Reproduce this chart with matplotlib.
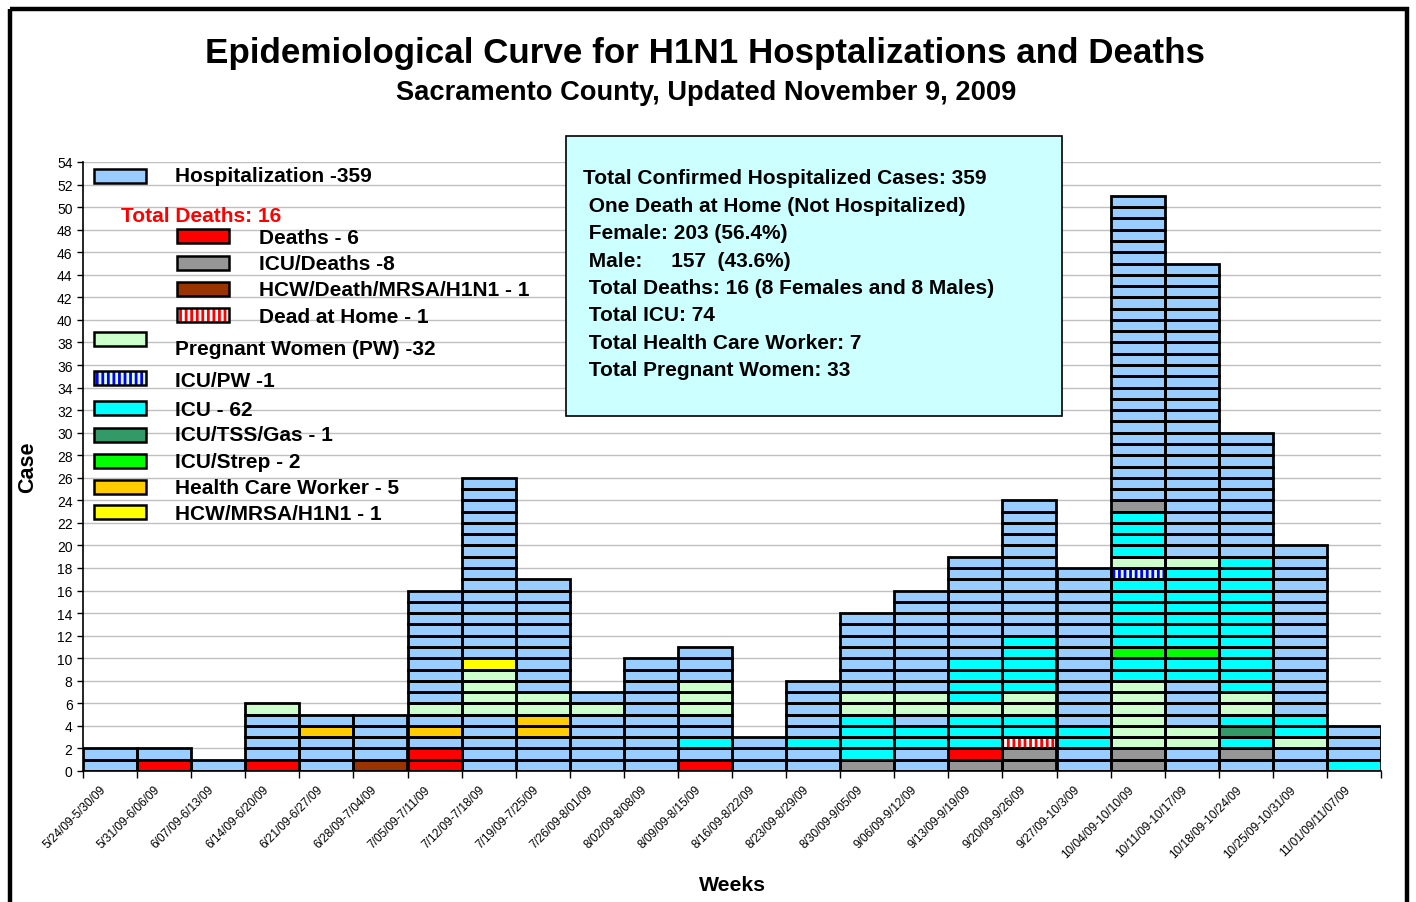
import matplotlib
matplotlib.use("Agg")
import matplotlib.pyplot as plt
from matplotlib.patches import Rectangle
from matplotlib.transforms import ScaledTranslation

plt.rcParams['font.family'] = ['Liberation Sans', 'DejaVu Sans']
plt.rcParams['hatch.linewidth'] = 2.0

# weekly cases, stacked bottom -> top as (category, count) runs
weeks = ["5/24/09-5/30/09", "5/31/09-6/06/09", "6/07/09-6/13/09", "6/14/09-6/20/09",
         "6/21/09-6/27/09", "6/28/09-7/04/09", "7/05/09-7/11/09", "7/12/09-7/18/09",
         "7/19/09-7/25/09", "7/26/09-8/01/09", "8/02/09-8/08/09", "8/09/09-8/15/09",
         "8/16/09-8/22/09", "8/23/09-8/29/09", "8/30/09-9/05/09", "9/06/09-9/12/09",
         "9/13/09-9/19/09", "9/20/09-9/26/09", "9/27/09-10/3/09", "10/04/09-10/10/09",
         "10/11/09-10/17/09", "10/18/09-10/24/09", "10/25/09-10/31/09", "11/01/09/11/07/09"]

stacks = [
    [("H", 2)],
    [("D", 1), ("H", 1)],
    [("H", 1)],
    [("D", 1), ("H", 4), ("PW", 1)],
    [("H", 3), ("HCW", 1), ("H", 1)],
    [("HCWD", 1), ("H", 4)],
    [("D", 2), ("H", 1), ("HCW", 1), ("H", 1), ("PW", 1), ("H", 10)],
    [("H", 5), ("PW", 4), ("HCWM", 1), ("H", 16)],
    [("H", 3), ("HCW", 2), ("PW", 2), ("H", 10)],
    [("H", 5), ("PW", 1), ("H", 1)],
    [("H", 10)],
    [("D", 1), ("H", 1), ("ICU", 1), ("H", 2), ("PW", 3), ("H", 3)],
    [("H", 3)],
    [("H", 2), ("ICU", 1), ("H", 5)],
    [("ICUD", 1), ("ICU", 4), ("PW", 2), ("H", 7)],
    [("H", 2), ("ICU", 2), ("H", 1), ("PW", 2), ("H", 9)],
    [("ICUD", 1), ("D", 1), ("ICU", 3), ("PW", 1), ("ICU", 4), ("H", 9)],
    [("ICUD", 2), ("HOME", 1), ("ICU", 2), ("PW", 2), ("ICU", 5), ("H", 12)],
    [("H", 2), ("ICU", 2), ("H", 14)],
    [("ICUD", 2), ("PW", 6), ("ICU", 2), ("STREP", 1), ("ICU", 6), ("ICUPW", 1),
     ("PW", 1), ("ICU", 4), ("ICUD", 1), ("H", 27)],
    [("H", 2), ("PW", 2), ("H", 4), ("ICU", 2), ("STREP", 1), ("ICU", 7), ("PW", 1), ("H", 26)],
    [("H", 1), ("ICUD", 1), ("ICU", 1), ("TSS", 1), ("ICU", 1), ("PW", 2), ("ICU", 12), ("H", 11)],
    [("H", 2), ("PW", 1), ("ICU", 2), ("H", 15)],
    [("ICU", 1), ("H", 3)],
]

legend_items = [
    ("H", "Hospitalization -359"),
    ("D", "Deaths - 6"),
    ("ICUD", "ICU/Deaths -8"),
    ("HCWD", "HCW/Death/MRSA/H1N1 - 1"),
    ("HOME", "Dead at Home - 1"),
    ("PW", "Pregnant Women (PW) -32"),
    ("ICUPW", "ICU/PW -1"),
    ("ICU", "ICU - 62"),
    ("TSS", "ICU/TSS/Gas - 1"),
    ("STREP", "ICU/Strep - 2"),
    ("HCW", "Health Care Worker - 5"),
    ("HCWM", "HCW/MRSA/H1N1 - 1"),
]

info_lines = ["Total Confirmed Hospitalized Cases: 359",
              " One Death at Home (Not Hospitalized)",
              " Female: 203 (56.4%)",
              " Male:     157  (43.6%)",
              " Total Deaths: 16 (8 Females and 8 Males)",
              " Total ICU: 74",
              " Total Health Care Worker: 7",
              " Total Pregnant Women: 33"]

# face colour, hatch, hatch colour
styles = {
    "H": ("#99CCFF", None, None),
    "D": ("#FF0000", None, None),
    "ICUD": ("#969696", None, None),
    "HCWD": ("#993300", None, None),
    "HOME": ("#FFFFFF", "|||", "#FF0000"),
    "PW": ("#CCFFCC", None, None),
    "ICUPW": ("#DDFFDD", "|||", "#0000FF"),
    "ICU": ("#00FFFF", None, None),
    "TSS": ("#339966", None, None),
    "STREP": ("#00FF00", None, None),
    "HCW": ("#FFCC00", None, None),
    "HCWM": ("#FFFF00", None, None),
}

W, H = 1416, 903
fig = plt.figure(figsize=(W / 100, H / 100), dpi=100)
ax = fig.add_axes([83 / W, 1 - 772 / H, (1381 - 83) / W, (772 - 163) / H])

for i, stack in enumerate(stacks):
    level = 0
    for code, n in stack:
        face, hatch, hcol = styles[code]
        for k in range(n):
            ax.bar(i, 1, bottom=level, width=1.0, color=face,
                   edgecolor=hcol if hatch else face, hatch=hatch, linewidth=0, zorder=2)
            ax.bar(i, 1, bottom=level, width=1.0, color='none',
                   edgecolor='black', linewidth=2.0, zorder=3)
            level += 1

ax.set_xlim(-0.5, len(weeks) - 0.5)
ax.set_ylim(0, 54)
ax.set_yticks(range(0, 55, 2))
ax.tick_params(axis='y', labelsize=10, length=4, width=1)

# week labels: rotated, drawn by hand so they can sit a little left of the bar centre
ax.set_xticks([i - 0.5 for i in range(len(weeks) + 1)])
ax.set_xticklabels([])
ax.tick_params(axis='x', length=5, width=1)
shift = ScaledTranslation(-10 / 100, -12 / 100, fig.dpi_scale_trans)
for i, wk in enumerate(weeks):
    ax.text(i, 0, wk, transform=ax.get_xaxis_transform() + shift, rotation=45,
            ha='right', va='top', rotation_mode='anchor', fontsize=8.6)

ax.grid(axis='y', color='#C0C0C0', linewidth=1, zorder=0)
ax.set_axisbelow(True)
for s in ['top', 'right']:
    ax.spines[s].set_visible(False)
ax.spines['left'].set_linewidth(1.2)
ax.spines['bottom'].set_linewidth(1.2)

# overlay in pixel coordinates for titles, legend and info box
ov = fig.add_axes([0, 0, 1, 1])
ov.set_xlim(0, W)
ov.set_ylim(H, 0)
ov.axis('off')

ov.add_patch(Rectangle((9.5, 9.5), W - 19, H + 20, fill=False, edgecolor='black', linewidth=3.2))
ov.text(705, 53, "Epidemiological Curve for H1N1 Hosptalizations and Deaths",
        ha='center', va='center', fontsize=25.2, fontweight='bold')
ov.text(706, 93, "Sacramento County, Updated November 9, 2009",
        ha='center', va='center', fontsize=19.6, fontweight='bold')
ov.text(28, 467, "Case", rotation=90, ha='center', va='center', fontsize=15.5, fontweight='bold')
ov.text(732, 886, "Weeks", ha='center', va='center', fontsize=15.3, fontweight='bold')

# legend
sub = {"D", "ICUD", "HCWD", "HOME"}
patch_y = [177, 237, 264, 290, 316, 340, 379, 409, 436, 462, 488, 513]
text_y = [177, 239, 265, 291, 318, 350, 382, 411, 436, 463, 489, 515]
for (code, label), py, ty in zip(legend_items, patch_y, text_y):
    face, hatch, hcol = styles[code]
    px = 177 if code in sub else 94
    tx = 259 if code in sub else 175
    ov.add_patch(Rectangle((px, py - 7), 52, 14, facecolor=face,
                           edgecolor=hcol if hatch else face, hatch=hatch, linewidth=0))
    ov.add_patch(Rectangle((px, py - 7), 52, 14, fill=False, edgecolor='black', linewidth=1.8))
    ov.text(tx, ty, label, ha='left', va='center', fontsize=15, fontweight='bold')
ov.text(121, 217, "Total Deaths: 16", color='red', ha='left', va='center',
        fontsize=15, fontweight='bold')

# info box
ov.add_patch(Rectangle((566, 137), 496, 280, facecolor='#CCFFFF', edgecolor='black', linewidth=1.2))
for j, line in enumerate(info_lines):
    ov.text(583, 179 + j * 27.4, line, ha='left', va='center', fontsize=15, fontweight='bold')

fig.savefig("out.png", dpi=100)
